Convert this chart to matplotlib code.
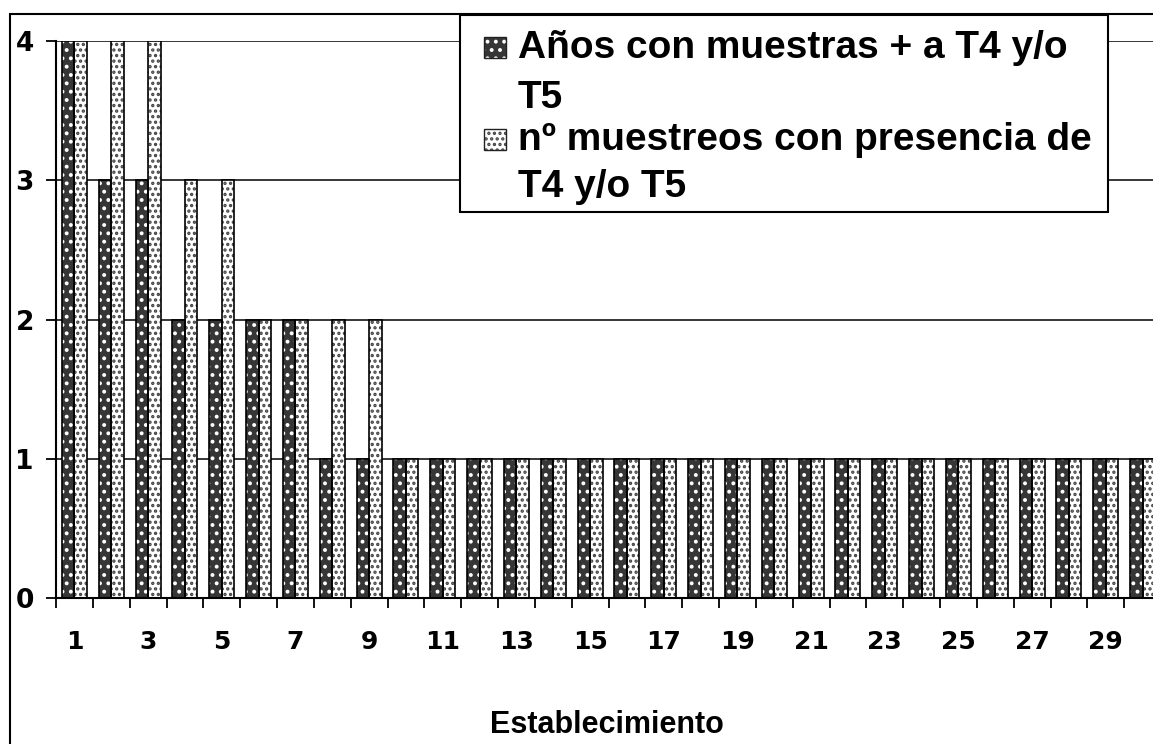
import matplotlib
matplotlib.use("Agg")
import matplotlib.pyplot as plt
from matplotlib.patches import Rectangle
import numpy as np

# datos por establecimiento
establecimientos = [1, 2, 3, 4, 5, 6, 7, 8, 9, 10,
                    11, 12, 13, 14, 15, 16, 17, 18, 19, 20,
                    21, 22, 23, 24, 25, 26, 27, 28, 29, 30]
anios_positivos = [4, 3, 3, 2, 2, 2, 2, 1, 1, 1,
                   1, 1, 1, 1, 1, 1, 1, 1, 1, 1,
                   1, 1, 1, 1, 1, 1, 1, 1, 1, 1]
muestreos_presencia = [4, 4, 4, 3, 3, 2, 2, 2, 2, 1,
                       1, 1, 1, 1, 1, 1, 1, 1, 1, 1,
                       1, 1, 1, 1, 1, 1, 1, 1, 1, 1]
etiquetas_x = [1, 3, 5, 7, 9, 11, 13, 15, 17, 19, 21, 23, 25, 27, 29]
etiquetas_y = [0, 1, 2, 3, 4]
serie1 = "Años con muestras + a T4 y/o\nT5"
serie2 = "nº muestreos con presencia de\nT4 y/o T5"

fuente = ["Liberation Sans", "DejaVu Sans"]
plt.rcParams["hatch.linewidth"] = 1.6

W, H = 1153, 744
fig = plt.figure(figsize=(W / 100, H / 100), dpi=100)
ax = fig.add_axes([56 / W, 146 / H, 1105 / W, 557 / H])

x = np.array(establecimientos)
w = 0.34
estilo1 = dict(facecolor="#363636", edgecolor="white", hatch="..")
estilo2 = dict(facecolor="white", edgecolor="#444444", hatch="...")
ax.bar(x - w / 2, anios_positivos, w, linewidth=0, zorder=2, **estilo1)
ax.bar(x + w / 2, muestreos_presencia, w, linewidth=0, zorder=2, **estilo2)
# contornos negros
ax.bar(x - w / 2, anios_positivos, w, fill=False, edgecolor="black", linewidth=1.2, zorder=3)
ax.bar(x + w / 2, muestreos_presencia, w, fill=False, edgecolor="black", linewidth=1.2, zorder=3)

ax.set_xlim(0.5, 30.5)
ax.set_ylim(0, 4)
ax.set_yticks(etiquetas_y)
ax.set_yticklabels([str(v) for v in etiquetas_y], fontsize=19, fontweight="bold",
                   family="DejaVu Sans")
ax.yaxis.grid(True, color="black", linewidth=1.1)
ax.set_axisbelow(True)

ax.set_xticks(np.arange(0.5, 31, 1))
ax.set_xticks(etiquetas_x, minor=True)
ax.set_xticklabels([str(v) for v in etiquetas_x], minor=True, fontsize=18,
                   fontweight="bold", family="DejaVu Sans")
ax.tick_params(axis="x", which="major", length=7, width=1.3, labelbottom=False)
ax.tick_params(axis="x", which="minor", length=0, pad=23)
ax.tick_params(axis="y", length=7, width=1.3, pad=9)

for s in ["top", "right"]:
    ax.spines[s].set_visible(False)
for s in ["left", "bottom"]:
    ax.spines[s].set_linewidth(1.5)

fig.text(607 / W, 1 - 733 / H, "Establecimiento", ha="center", va="baseline",
         fontsize=22, fontweight="bold", family=fuente)

# marco del gráfico
fig.add_artist(Rectangle((10 / W, -0.1), 1.2, (H - 14) / H + 0.1,
                         transform=fig.transFigure, fill=False,
                         edgecolor="black", linewidth=1.5))

# leyenda
fig.add_artist(Rectangle((460 / W, 1 - 212 / H), 648 / W, 197 / H,
                         transform=fig.transFigure, facecolor="white",
                         edgecolor="black", linewidth=1.5, zorder=4))
entradas = [((58, 108), serie1, estilo1), ((150, 197), serie2, estilo2)]
for bases, texto, estilo in entradas:
    base = bases[0]
    fig.add_artist(Rectangle((484 / W, 1 - base / H), 22 / W, 21 / H,
                             transform=fig.transFigure, linewidth=0, zorder=5,
                             **estilo))
    fig.add_artist(Rectangle((484 / W, 1 - base / H), 22 / W, 21 / H,
                             transform=fig.transFigure, fill=False,
                             edgecolor="#222222", linewidth=1, zorder=5))
    for y, linea in zip(bases, texto.split("\n")):
        fig.text(518 / W, 1 - y / H, linea, ha="left", va="baseline",
                 fontsize=28, fontweight="bold", family=fuente, zorder=6)

fig.savefig("out.png", dpi=100)
